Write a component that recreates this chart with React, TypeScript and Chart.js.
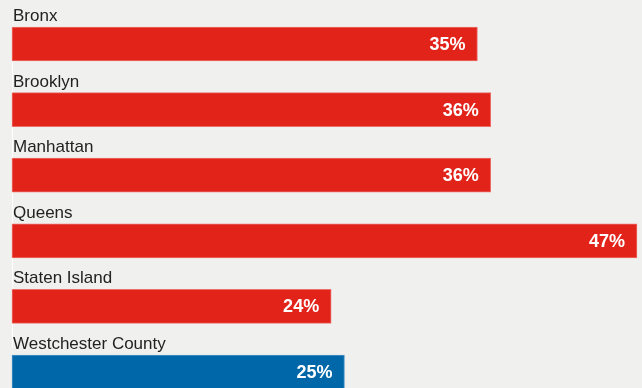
import React, { useEffect, useRef } from "react";
import { Chart, registerables } from "chart.js";

Chart.register(...registerables);

const categories = ["Bronx", "Brooklyn", "Manhattan", "Queens", "Staten Island", "Westchester County"];
const values = [35, 36, 36, 47, 24, 25];
const valueLabels = ["35%", "36%", "36%", "47%", "24%", "25%"];
const barColors = ["#e2231a", "#e2231a", "#e2231a", "#e2231a", "#e2231a", "#0068a8"];
const edgeColors = ["#ec6f68", "#ec6f68", "#ec6f68", "#ec6f68", "#ec6f68", "#4d93c4"];

const BG = "#f0f0ee";
const FONT = "'Liberation Sans', Arial, Helvetica, sans-serif";

const labelPlugin = {
  id: "labelPlugin",
  beforeDraw(chart: any) {
    const ctx = chart.ctx;
    ctx.save();
    ctx.fillStyle = BG;
    ctx.fillRect(0, 0, chart.width, chart.height);
    // zero line
    const meta = chart.getDatasetMeta(0);
    const x0 = chart.scales.x.getPixelForValue(0);
    const first = meta.data[0];
    const last = meta.data[meta.data.length - 1];
    ctx.strokeStyle = "#ffffff";
    ctx.lineWidth = 1;
    ctx.beginPath();
    ctx.moveTo(Math.round(x0) + 0.5, first.y - 17);
    ctx.lineTo(Math.round(x0) + 0.5, last.y - 24);
    ctx.stroke();
    ctx.restore();
  },
  afterDatasetsDraw(chart: any) {
    const ctx = chart.ctx;
    const meta = chart.getDatasetMeta(0);
    ctx.save();
    meta.data.forEach((bar: any, i: number) => {
      ctx.font = `17px ${FONT}`;
      ctx.fillStyle = "#222222";
      ctx.textAlign = "left";
      ctx.textBaseline = "alphabetic";
      ctx.fillText(categories[i], 13, bar.y - 23);
      ctx.font = `bold 18px ${FONT}`;
      ctx.fillStyle = "#ffffff";
      ctx.textAlign = "right";
      ctx.textBaseline = "middle";
      ctx.fillText(valueLabels[i], bar.x - 12, bar.y + 1);
    });
    ctx.restore();
  },
};

export default function App() {
  const ref = useRef<HTMLCanvasElement>(null);
  useEffect(() => {
    document.body.style.margin = "0";
    document.body.style.background = BG;
    const chart = new Chart(ref.current!, {
      type: "bar",
      data: {
        labels: categories,
        datasets: [
          {
            data: values,
            backgroundColor: barColors,
            borderColor: edgeColors,
            borderWidth: 1,
            borderSkipped: false,
            barThickness: 34,
            clip: false as any,
          },
        ],
      },
      options: {
        indexAxis: "y",
        animation: false,
        responsive: false,
        maintainAspectRatio: false,
        layout: { padding: { top: 44, bottom: 16, left: 12, right: 5 } },
        plugins: { legend: { display: false }, tooltip: { enabled: false } },
        scales: {
          x: { display: false, min: 0, max: 47 },
          y: { display: false, offset: false },
        },
      },
      plugins: [labelPlugin],
    });
    return () => chart.destroy();
  }, []);
  return (
    <div style={{ width: 642, height: 388, background: BG }}>
      <canvas ref={ref} width={642} height={388} style={{ display: "block", width: 642, height: 388 }} />
    </div>
  );
}
